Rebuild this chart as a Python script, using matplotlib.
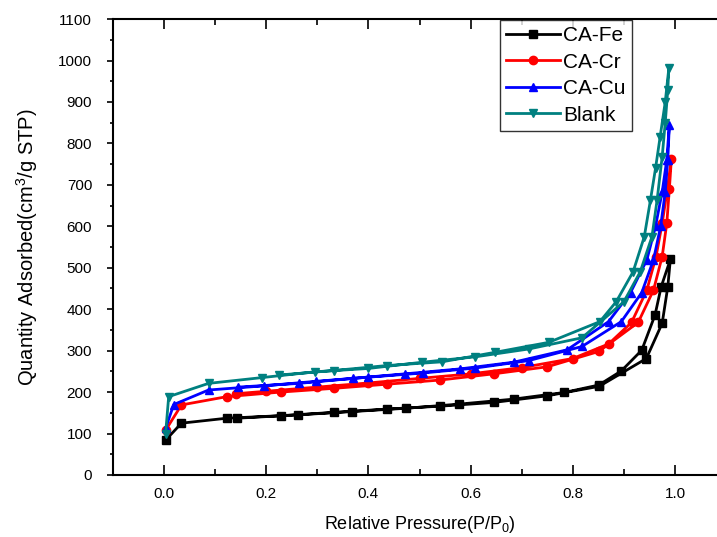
import matplotlib
matplotlib.use("Agg")
import matplotlib.pyplot as plt
from matplotlib.ticker import MultipleLocator

plt.rcParams["font.family"] = ["Liberation Sans", "DejaVu Sans"]
plt.rcParams["mathtext.fontset"] = "custom"
plt.rcParams["mathtext.rm"] = "Liberation Sans"
plt.rcParams["mathtext.it"] = "Liberation Sans"

# isotherms: adsorption branch followed by desorption branch
fe_x = [0.003, 0.034, 0.123, 0.228, 0.332, 0.436, 0.541, 0.645, 0.750, 0.852,
        0.944, 0.975, 0.986, 0.991, 0.973, 0.961, 0.935, 0.895, 0.851, 0.783,
        0.684, 0.578, 0.474, 0.368, 0.262, 0.143]
fe_y = [84, 125, 137, 143, 151, 159, 166, 175, 191, 214,
        281, 366, 454, 520, 454, 386, 301, 251, 217, 199,
        183, 171, 161, 153, 145, 137]

cr_x = [0.003, 0.034, 0.123, 0.228, 0.332, 0.436, 0.540, 0.645, 0.750, 0.851,
        0.928, 0.958, 0.975, 0.984, 0.989, 0.993, 0.985, 0.975, 0.963, 0.945,
        0.915, 0.870, 0.800, 0.700, 0.600, 0.500, 0.400, 0.300, 0.200, 0.140]
cr_y = [108, 169, 189, 200, 209, 219, 229, 244, 261, 298,
        368, 446, 527, 607, 689, 762, 689, 607, 527, 446,
        368, 316, 281, 259, 244, 233, 222, 212, 202, 196]

cu_x = [0.003, 0.019, 0.087, 0.195, 0.298, 0.400, 0.506, 0.609, 0.714, 0.818,
        0.895, 0.935, 0.958, 0.972, 0.981, 0.986, 0.989, 0.984, 0.975, 0.962,
        0.945, 0.913, 0.870, 0.789, 0.684, 0.580, 0.472, 0.369, 0.264, 0.145]
cu_y = [113, 170, 205, 215, 226, 236, 246, 258, 276, 310,
        370, 440, 519, 600, 683, 760, 844, 760, 683, 600,
        519, 440, 370, 302, 272, 256, 244, 233, 221, 212]

blank_x = [0.003, 0.009, 0.087, 0.192, 0.296, 0.400, 0.505, 0.609, 0.714, 0.818,
           0.900, 0.932, 0.955, 0.965, 0.975, 0.981, 0.986, 0.988, 0.981, 0.971,
           0.962, 0.952, 0.940, 0.918, 0.885, 0.853, 0.753, 0.648, 0.544, 0.436,
           0.332, 0.224]
blank_y = [100, 189, 221, 235, 249, 257, 272, 285, 304, 331,
           418, 490, 575, 663, 768, 850, 929, 981, 900, 816,
           740, 663, 575, 490, 418, 370, 320, 296, 273, 264,
           252, 241]

labels = ["CA-Fe", "CA-Cr", "CA-Cu", "Blank"]
colors = ["#000000", "#FF0000", "#0000FF", "#008080"]
markers = ["s", "o", "^", "v"]
series = [(fe_x, fe_y), (cr_x, cr_y), (cu_x, cu_y), (blank_x, blank_y)]

fig = plt.figure(figsize=(7.17, 5.37), dpi=100)
ax = fig.add_axes([0.1576, 0.1155, 0.855, 0.849])

for (x, y), label, color, marker in zip(series, labels, colors, markers):
    ax.plot(x, y, color=color, marker=marker, markersize=6, linewidth=2,
            label=label)

ax.set_xlim(-0.1, 1.1)
ax.set_ylim(0, 1100)
ax.xaxis.set_major_locator(MultipleLocator(0.2))
ax.xaxis.set_minor_locator(MultipleLocator(0.1))
ax.yaxis.set_major_locator(MultipleLocator(100))
ax.yaxis.set_minor_locator(MultipleLocator(50))
ax.xaxis.set_major_formatter(plt.FormatStrFormatter("%.1f"))

ax.tick_params(axis="x", which="both", direction="in", top=True, labelsize=11,
               pad=9)
ax.tick_params(axis="x", which="major", length=7, width=1.2)
ax.tick_params(axis="x", which="minor", length=4, width=1.2)
ax.tick_params(axis="y", which="both", direction="out", labelsize=11)
ax.tick_params(axis="y", which="major", length=4, width=1.2, pad=11)
ax.tick_params(axis="y", which="minor", length=2.5, width=1.2)
for side in ["left", "bottom", "top"]:
    ax.spines[side].set_linewidth(1.5)
ax.spines["right"].set_visible(False)

ax.set_xlabel("Relative Pressure(P/P$_0$)", fontsize=13, labelpad=9)
ax.set_ylabel("Quantity Adsorbed(cm$^3$/g STP)", fontsize=14.5, labelpad=13)

leg = ax.legend(loc="upper left", bbox_to_anchor=(0.631, 0.998), fontsize=15,
                frameon=True, fancybox=False, edgecolor="black",
                handlelength=2.6, borderpad=0.3, labelspacing=0.36,
                handletextpad=0.15, borderaxespad=0)
leg.get_frame().set_linewidth(1.0)

fig.savefig("out.png", dpi=100)
